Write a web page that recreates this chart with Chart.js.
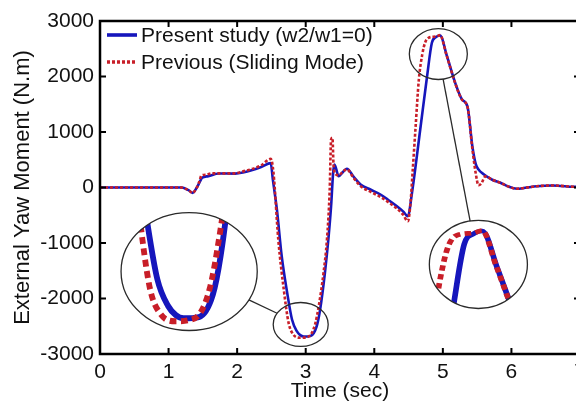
<!DOCTYPE html>
<html>
<head>
<meta charset="utf-8">
<script src="https://cdn.jsdelivr.net/npm/chart.js@4.4.1/dist/chart.umd.min.js"></script>
<style>
  html, body { margin: 0; padding: 0; background: #fff; overflow: hidden; }
  #wrap { position: relative; width: 600px; height: 406px; }
</style>
</head>
<body>
<div id="wrap"><canvas id="yaw"></canvas></div>
<script>
/* Yaw moment (N.m) against time (s) for the two controllers */
const presentTime = [0, 0.5, 1.0, 1.19, 1.29, 1.35, 1.41, 1.46, 1.49, 1.58, 1.73, 1.97, 2.1, 2.21, 2.35, 2.49, 2.52, 2.58, 2.65, 2.73, 2.80, 2.87, 2.92, 2.97, 3.07, 3.16, 3.21, 3.28, 3.33, 3.37, 3.40, 3.42, 3.48, 3.55, 3.60, 3.70, 3.80, 3.95, 4.09, 4.20, 4.33, 4.42, 4.49, 4.55, 4.67, 4.77, 4.84, 4.90, 4.96, 5.06, 5.18, 5.28, 5.36, 5.43, 5.48, 5.52, 5.60, 5.72, 5.84, 5.95, 6.08, 6.20, 6.37, 6.60, 6.90, 7.0];
const presentMoment = [0, 0, 0, 0, -48, -96, -5, 114, 175, 204, 252, 250, 275, 312, 370, 440, 150, -400, -1238, -1898, -2378, -2589, -2660, -2685, -2675, -2500, -2200, -1537, -937, -337, 265, 414, 204, 290, 337, 190, 54, -40, -126, -220, -337, -430, -517, -96, 1045, 2005, 2607, 2710, 2740, 2366, 1886, 1586, 1454, 744, 420, 324, 234, 140, 85, 20, -23, -5, 23, 36, 13, 10];

const previousTime = [0, 0.5, 1.0, 1.19, 1.29, 1.35, 1.41, 1.45, 1.48, 1.55, 1.63, 1.8, 1.97, 2.1, 2.21, 2.35, 2.49, 2.53, 2.60, 2.68, 2.75, 2.82, 2.92, 3.00, 3.08, 3.14, 3.19, 3.26, 3.31, 3.35, 3.37, 3.39, 3.405, 3.43, 3.48, 3.55, 3.60, 3.70, 3.80, 3.95, 4.09, 4.20, 4.33, 4.42, 4.49, 4.53, 4.56, 4.60, 4.65, 4.70, 4.74, 4.79, 4.90, 4.96, 5.05, 5.18, 5.28, 5.36, 5.43, 5.48, 5.52, 5.56, 5.62, 5.72, 5.84, 5.95, 6.08, 6.20, 6.37, 6.60, 6.90, 7.0];
const previousMoment = [0, 0, 0, 0, -48, -96, -5, 110, 216, 230, 255, 255, 255, 295, 330, 400, 515, 265, -937, -1838, -2438, -2650, -2708, -2700, -2640, -2450, -2138, -1537, -937, -36, 865, 895, 420, 250, 220, 295, 325, 170, 25, -80, -170, -260, -380, -490, -607, -250, 300, 1045, 1946, 2400, 2607, 2697, 2720, 2745, 2400, 1880, 1580, 1450, 700, 250, 40, 70, 200, 140, 85, 20, -23, -5, 23, 36, 13, 10];

const xTicks = [0, 1, 2, 3, 4, 5, 6, 7];
const yTicks = [-3000, -2000, -1000, 0, 1000, 2000, 3000];

const family = '"Liberation Sans", Arial, sans-serif';
const tickFont = { family, size: 21 };
const xTitleFont = { family, size: 21 };
const yTitleFont = { family, size: 22 };

/* magnifier circles: small one marks the region, big one shows it enlarged */
const insets = [
  {
    from: { x: 2.927, y: -2468, rx: 0.401, ry: 396 },
    to: { x: 1.30, y: -1514, rx: 0.993, ry: 1063 },
    focus: { x: 2.993, y: -2342 },
    at: { x: 1.27, y: -1568 },
    zoom: [2.25, 2.3]
  },
  {
    from: { x: 4.934, y: 2405, rx: 0.423, ry: 459 },
    to: { x: 5.518, y: -1387, rx: 0.715, ry: 793 },
    focus: { x: 4.934, y: 2405 },
    at: { x: 5.518, y: -1387 },
    zoom: [2.2, 1.8]
  }
];

const toPoints = (ts, vs) => ts.map((t, i) => ({ x: t, y: vs[i] }));

function ellipsePx(scales, e) {
  const cx = scales.x.getPixelForValue(e.x);
  const cy = scales.y.getPixelForValue(e.y);
  return {
    cx, cy,
    rx: Math.abs(scales.x.getPixelForValue(e.x + e.rx) - cx),
    ry: Math.abs(scales.y.getPixelForValue(e.y + e.ry) - cy)
  };
}

const framePlugin = {
  id: 'frame',
  afterDatasetsDraw(chart) {
    const { ctx, chartArea: a, scales: { x, y } } = chart;
    ctx.save();
    ctx.strokeStyle = '#000';
    ctx.lineWidth = 2.5;
    ctx.strokeRect(a.left, a.top, a.right - a.left, a.bottom - a.top);
    // inward tick marks on all four sides
    ctx.lineWidth = 2;
    ctx.beginPath();
    xTicks.forEach((v) => {
      const px = x.getPixelForValue(v);
      ctx.moveTo(px, a.bottom); ctx.lineTo(px, a.bottom - 6);
      ctx.moveTo(px, a.top); ctx.lineTo(px, a.top + 6);
    });
    yTicks.forEach((v) => {
      const py = y.getPixelForValue(v);
      ctx.moveTo(a.left, py); ctx.lineTo(a.left + 6, py);
      ctx.moveTo(a.right, py); ctx.lineTo(a.right - 6, py);
    });
    ctx.stroke();
    ctx.restore();
  }
};

const insetPlugin = {
  id: 'insets',
  afterDatasetsDraw(chart) {
    const { ctx, scales } = chart;
    const metas = chart.getSortedVisibleDatasetMetas();
    insets.forEach((ins) => {
      const s = ellipsePx(scales, ins.from);
      const b = ellipsePx(scales, ins.to);
      const fx = scales.x.getPixelForValue(ins.focus.x);
      const fy = scales.y.getPixelForValue(ins.focus.y);
      const ax = scales.x.getPixelForValue(ins.at.x);
      const ay = scales.y.getPixelForValue(ins.at.y);

      // enlarged copy of the curves, clipped to the big ellipse
      ctx.save();
      ctx.beginPath();
      ctx.ellipse(b.cx, b.cy, b.rx, b.ry, 0, 0, Math.PI * 2);
      ctx.clip();
      ctx.translate(ax, ay);
      ctx.scale(ins.zoom[0], ins.zoom[1]);
      ctx.translate(-fx, -fy);
      for (let i = metas.length - 1; i >= 0; i--) {
        metas[i].dataset.draw(ctx, chart.chartArea);
      }
      ctx.restore();

      ctx.save();
      ctx.strokeStyle = '#2a2a2a';
      ctx.lineWidth = 1.3;
      [s, b].forEach((e) => {
        ctx.beginPath();
        ctx.ellipse(e.cx, e.cy, e.rx, e.ry, 0, 0, Math.PI * 2);
        ctx.stroke();
      });
      // connector between the two ellipses along the centre line
      const dx = b.cx - s.cx, dy = b.cy - s.cy;
      const ks = 1 / Math.hypot(dx / s.rx, dy / s.ry);
      const kb = 1 / Math.hypot(dx / b.rx, dy / b.ry);
      ctx.beginPath();
      ctx.moveTo(s.cx + dx * ks, s.cy + dy * ks);
      ctx.lineTo(b.cx - dx * kb, b.cy - dy * kb);
      ctx.stroke();
      ctx.restore();
    });
  }
};

const legendPlugin = {
  id: 'insideLegend',
  afterDraw(chart) {
    const { ctx, chartArea: a } = chart;
    ctx.save();
    ctx.font = `21px ${family}`;
    ctx.textBaseline = 'middle';
    chart.data.datasets.forEach((ds, i) => {
      const y = a.top + 14 + i * 27;
      const x0 = a.left + 7;
      ctx.strokeStyle = ds.borderColor;
      ctx.lineWidth = ds.borderWidth + 1;
      ctx.setLineDash(ds.borderDash || []);
      ctx.beginPath();
      ctx.moveTo(x0, y);
      ctx.lineTo(x0 + 30, y);
      ctx.stroke();
      ctx.setLineDash([]);
      ctx.fillStyle = '#111';
      ctx.fillText(ds.label, x0 + 34, y + 1);
    });
    ctx.restore();
  }
};

new Chart(document.getElementById('yaw'), {
  type: 'line',
  data: {
    datasets: [
      {
        label: 'Present study (w2/w1=0)',
        data: toPoints(presentTime, presentMoment),
        borderColor: '#1616bc',
        borderWidth: 2.6,
        pointRadius: 0,
        cubicInterpolationMode: 'monotone',
        order: 1
      },
      {
        label: 'Previous (Sliding Mode)',
        data: toPoints(previousTime, previousMoment),
        borderColor: '#c81e28',
        borderWidth: 2.6,
        borderDash: [3, 2],
        pointRadius: 0,
        cubicInterpolationMode: 'monotone',
        order: 0
      }
    ]
  },
  options: {
    responsive: true,
    maintainAspectRatio: false,
    animation: false,
    layout: { padding: { top: 21, right: 20, left: 0, bottom: 0 } },
    scales: {
      x: {
        type: 'linear',
        min: 0,
        max: 7,
        afterBuildTicks: (scale) => { scale.ticks = xTicks.map((v) => ({ value: v })); },
        afterFit: (scale) => { scale.height = 52; },
        ticks: { font: tickFont, color: '#111', padding: 6, maxRotation: 0, callback: (v) => String(v) },
        grid: { display: false, drawTicks: false },
        border: { display: false },
        title: { display: true, text: 'Time (sec)', font: xTitleFont, color: '#111', padding: { top: 0, bottom: 2 } }
      },
      y: {
        min: -3000,
        max: 3000,
        afterBuildTicks: (scale) => { scale.ticks = yTicks.map((v) => ({ value: v })); },
        afterFit: (scale) => { scale.width = 100; },
        ticks: { font: tickFont, color: '#111', padding: 6, callback: (v) => String(v) },
        grid: { display: false, drawTicks: false },
        border: { display: false },
        title: { display: true, text: 'External Yaw Moment (N.m)', font: yTitleFont, color: '#111', padding: { top: 10, bottom: 0 } }
      }
    },
    plugins: {
      legend: { display: false },
      tooltip: { enabled: false }
    }
  },
  plugins: [insetPlugin, framePlugin, legendPlugin]
});
</script>
</body>
</html>
